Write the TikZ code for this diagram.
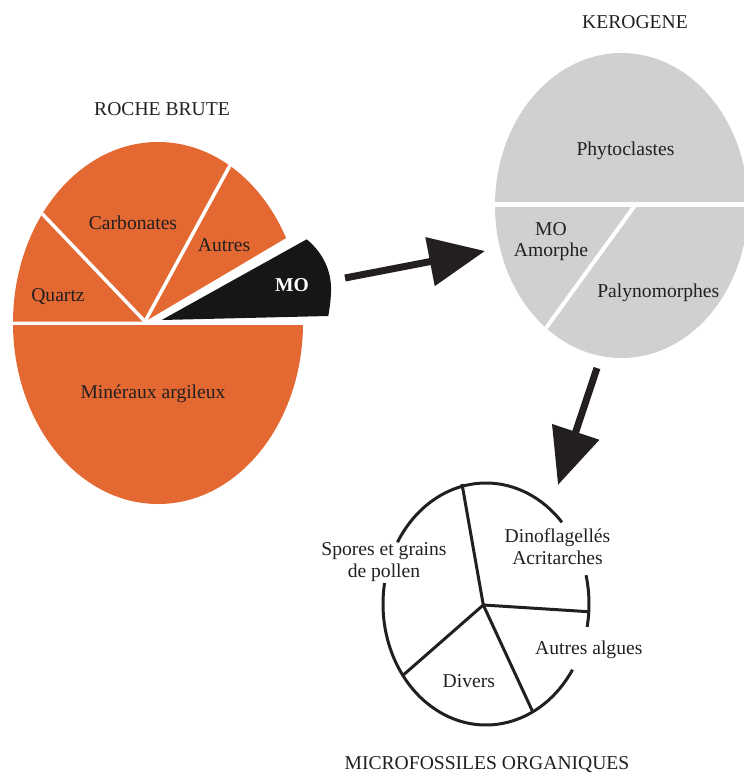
\documentclass[tikz,border=0pt]{standalone}
\usepackage{fontspec}
\setmainfont{Liberation Serif}
\usetikzlibrary{arrows.meta}
\definecolor{roche}{RGB}{227,104,50}
\definecolor{kero}{RGB}{208,208,208}
\definecolor{mo}{RGB}{22,22,22}
\definecolor{ink}{RGB}{35,31,32}
\newcommand{\lbl}{\fontsize{19.6}{21.5}\selectfont}

\begin{document}
\begin{tikzpicture}[x=1pt, y=-1pt,
  every node/.style={font=\lbl, text=ink, inner sep=0pt, anchor=base, align=center},
  divider/.style={white, line width=3.5pt},
  spoke/.style={ink, line width=3pt},
  bigarrow/.style={ink, line width=7pt, -{Triangle[length=56pt, width=48pt]}}]
\useasboundingbox (0,0) rectangle (744,774);

% roche brute
\begin{scope}
\clip (158,323) ellipse [x radius=145, y radius=181];
\fill[roche] (0,325) rectangle (320,520);
\fill[roche] (145,321.5) -- (320,218) -- (320,120) -- (0,120) -- (0,321.5) -- cycle;
\draw[divider] (145,321.5) -- (30,201);
\draw[divider] (145,321.5) -- (240,147);
\end{scope}
\fill[mo] (161.7,320) -- (306.7,239.3) .. controls (322,252) and (332,270) .. (331,292)
  .. controls (330.5,302) .. (328.3,316) -- cycle;

% kerogene
\begin{scope}
\clip (621.5,205.5) ellipse [x radius=126.5, y radius=152.5];
\fill[kero] (490,40) rectangle (760,370);
\draw[white, line width=4.5pt] (490,204.3) -- (760,204.3);
\draw[white, line width=4pt] (636,204) -- (538,339);
\end{scope}

% microfossiles
\coordinate (hub) at (483.3,605);
\coordinate (s1) at (462,484);
\coordinate (s2) at (588.5,611.7);
\coordinate (s3) at (403.3,675);
\coordinate (s4) at (532.7,711.7);
\draw[spoke] (hub) -- (s1) (hub) -- (s2) (hub) -- (s3) (hub) -- (s4);
\draw[spoke] (486,604) ++(-149.3:103 and 121) arc[start angle=-149.3, end angle=-42.5, x radius=103, y radius=121];
\draw[spoke] (486,604) ++(-13.8:103 and 121) arc[start angle=-13.8, end angle=10.9, x radius=103, y radius=121];
\draw[spoke] (486,604) ++(32.9:103 and 121) arc[start angle=32.9, end angle=190, x radius=103, y radius=121];

% labels
\node (roche) at (162,115) {ROCHE BRUTE};
\node (quartz) at (58,301) {Quartz};
\node (carb) at (133,229.3) {Carbonates};
\node (autres) at (224,251) {Autres};
\node[text=white, font=\lbl\bfseries] (mo) at (292,291) {MO};
\node (argile) at (153,398) {Minéraux argileux};

\node (kerogene) at (635,28.3) {KEROGENE};
\node (phyto) at (625.5,155) {Phytoclastes};
\node (amorphe) at (551,256.7) {MO\\Amorphe};
\node (paly) at (658.3,297.7) {Palynomorphes};

\node (spores) at (384,577.3) {Spores et grains\\de pollen};
\node (dino) at (557.5,564.3) {Dinoflagellés\\Acritarches};
\node (algues) at (588.8,654) {Autres algues};
\node (divers) at (468.8,687.3) {Divers};
\node (micro) at (487,769.5) {MICROFOSSILES ORGANIQUES};

% arrows
\coordinate (mo out) at (345,278);
\coordinate (kero in) at (485,251);
\coordinate (kero out) at (597,368);
\coordinate (micro in) at (558,485);
\draw
	(mo out) edge[bigarrow] (kero in)
	(kero out) edge[bigarrow] (micro in)
;
\end{tikzpicture}
\end{document}
